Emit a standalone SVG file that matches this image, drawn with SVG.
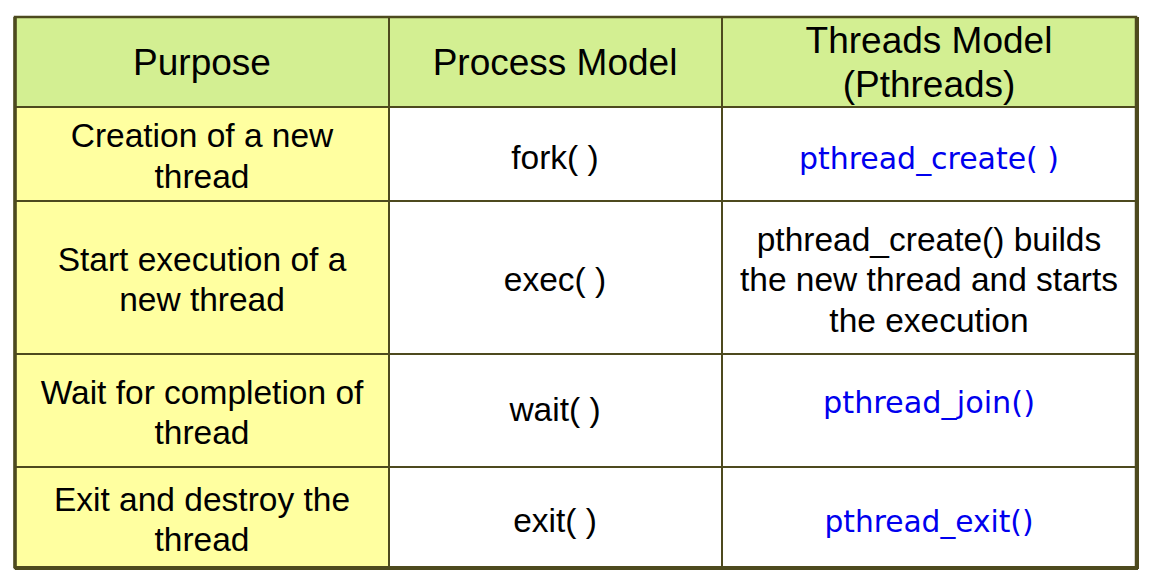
<svg xmlns="http://www.w3.org/2000/svg" width="1152" height="586" viewBox="0 0 1152 586">
<style>
text{font-family:"Liberation Sans",Arial,sans-serif;font-size:33.5px;fill:#000;text-anchor:middle}
.b{font-family:"DejaVu Sans Condensed","DejaVu Sans",sans-serif;fill:#0000ee;font-size:31px}
.h{font-size:37px}
line{stroke:#4d4a1e;stroke-width:2}
</style>
<rect x="0" y="0" width="1152" height="586" fill="#fff"/>
<g id="header">
<rect x="15" y="17" width="1121" height="90" fill="#d3ef92"/>
<text class="h" x="202" y="75">Purpose</text>
<text class="h" x="555" y="75">Process Model</text>
<text class="h" x="929" y="53">Threads Model</text>
<text class="h" x="929" y="97">(Pthreads)</text>
</g>
<rect x="15" y="107" width="374" height="461" fill="#ffffa0"/>
<g id="row1">
<text x="202" y="147">Creation of a new</text>
<text x="202" y="188">thread</text>
<text x="555" y="169">fork( )</text>
<text class="b" x="929" y="169" textLength="260" lengthAdjust="spacingAndGlyphs">pthread_create( )</text>
</g>
<g id="row2">
<text x="202" y="271">Start execution  of a</text>
<text x="202" y="311">new thread</text>
<text x="555" y="291">exec( )</text>
<text x="929" y="251">pthread_create() builds</text>
<text x="929" y="291">the new thread and starts</text>
<text x="929" y="332">the execution</text>
</g>
<g id="row3">
<text x="202" y="404">Wait for completion of</text>
<text x="202" y="444">thread</text>
<text x="555" y="421">wait( )</text>
<text class="b" x="929" y="413" textLength="212" lengthAdjust="spacingAndGlyphs">pthread_join()</text>
</g>
<g id="row4">
<text x="202" y="511">Exit and destroy the</text>
<text x="202" y="551">thread</text>
<text x="555" y="532">exit( )</text>
<text class="b" x="929" y="532" textLength="209" lengthAdjust="spacingAndGlyphs">pthread_exit()</text>
</g>
<g id="grid">
<line x1="15" y1="107" x2="1136" y2="107"/>
<line x1="15" y1="201" x2="1136" y2="201"/>
<line x1="15" y1="354" x2="1136" y2="354"/>
<line x1="15" y1="467" x2="1136" y2="467"/>
<line x1="389" y1="17" x2="389" y2="568"/>
<line x1="722" y1="17" x2="722" y2="568"/>
<rect x="15" y="17" width="1121" height="551" fill="none" stroke="#4d4a1e" stroke-width="2.5"/>
<line x1="15" y1="17" x2="15" y2="568" style="stroke-width:3.5"/>
<line x1="1137" y1="17" x2="1137" y2="569" style="stroke-width:4"/>
<line x1="15" y1="568" x2="1138" y2="568" style="stroke-width:4"/>
</g>
</svg>
